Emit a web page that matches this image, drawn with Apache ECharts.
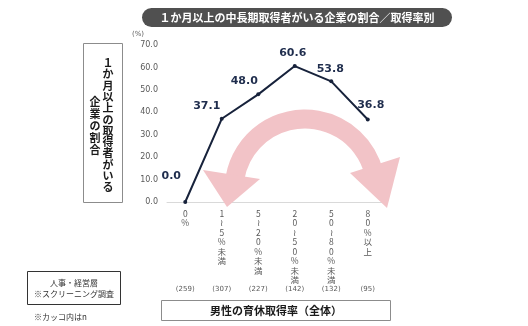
<!DOCTYPE html>
<html><head><meta charset="utf-8">
<script src="https://cdn.jsdelivr.net/npm/echarts@6/dist/echarts.min.js"></script>
<style>html,body{margin:0;padding:0;background:#fff}#c{width:528px;height:326px}</style>
</head><body><div id="c"></div>
<script>
const categories = ['0%', '1≀5%未満', '5≀20%未満', '20≀50%未満', '50≀80%未満', '80%以上'];
const values = [0.0, 37.1, 48.0, 60.6, 53.8, 36.8];
const nValues = [259, 307, 227, 142, 132, 95];
const yTicks = [0, 10, 20, 30, 40, 50, 60, 70];
const titleText = '１か月以上の中長期取得者がいる企業の割合／取得率別';
const yTitleCol1 = '１か月以上の取得者がいる';
const yTitleCol2 = '企業の割合';
const xTitle = '男性の育休取得率（全体）';
const noteBox = ['人事・経営層', '※スクリーニング調査'];
const noteN = '※カッコ内はn';

const labelOffsets = [[-14, -18], [-15, -5], [-14, -6], [-2, -5], [-1, -5], [3, -7]];
const JP = '"Noto Sans CJK JP", sans-serif';
const deg = Math.PI / 180;

const chart = echarts.init(document.getElementById('c'), null, {renderer: 'canvas'});
chart.setOption({
  animation: false,
  grid: {left: 167, right: 142, top: 45, bottom: 124},
  xAxis: [{
    type: 'category', data: categories, boundaryGap: true,
    axisLine: {lineStyle: {color: '#d9d9d9', width: 1}},
    axisTick: {show: false},
    axisLabel: {
      interval: 0, margin: 7, color: '#595959', fontFamily: JP, fontSize: 8.5,
      lineHeight: 9.5, verticalAlign: 'top',
      formatter: v => Array.from(v).join('\n')
    }
  }, {
    type: 'category', data: categories, position: 'bottom', offset: 82,
    axisLine: {show: false}, axisTick: {show: false},
    axisLabel: {interval: 0, margin: 2, color: '#595959', fontFamily: 'DejaVu Sans', fontSize: 7,
      formatter: (v, i) => '(' + nValues[i] + ')'}
  }],
  yAxis: {
    type: 'value', min: yTicks[0], max: yTicks[yTicks.length - 1], interval: 10,
    axisLine: {show: false}, axisTick: {show: false}, splitLine: {show: false},
    axisLabel: {margin: 9, color: '#595959', fontFamily: 'DejaVu Sans', fontSize: 8,
      formatter: v => v.toFixed(1)}
  },
  series: [{
    type: 'line', data: values.map((v, i) => ({
      value: v,
      label: {offset: labelOffsets[i]}
    })),
    symbol: 'circle', symbolSize: 4,
    lineStyle: {color: '#17223b', width: 2},
    itemStyle: {color: '#17223b'},
    z: 5,
    label: {show: true, position: 'top', distance: 0, color: '#1f2d4d',
      fontFamily: 'DejaVu Sans', fontWeight: 'bold', fontSize: 11,
      formatter: p => p.value.toFixed(1)}
  }],
  graphic: [
    {type: 'rect', shape: {x: 142, y: 8, width: 310, height: 19, r: 9.5},
      style: {fill: '#505050'}},
    {type: 'text', x: 297, y: 17.5, style: {text: titleText, fill: '#fff', font: 'bold 11px ' + JP,
      align: 'center', verticalAlign: 'middle'}},
    {type: 'text', x: 138, y: 34, style: {text: '(%)', fill: '#595959', font: '7px "DejaVu Sans"',
      align: 'center', verticalAlign: 'middle'}},
    {type: 'rect', shape: {x: 83.5, y: 43.5, width: 39, height: 159},
      style: {fill: 'none', stroke: '#8c8c8c', lineWidth: 1}},
    {type: 'text', x: 108, y: 125, style: {text: Array.from(yTitleCol1).join('\n'), fill: '#1a1a1a',
      font: 'bold 11px ' + JP, lineHeight: 11.3, align: 'center', verticalAlign: 'middle'}},
    {type: 'text', x: 95, y: 126, style: {text: Array.from(yTitleCol2).join('\n'), fill: '#1a1a1a',
      font: 'bold 11px ' + JP, lineHeight: 12, align: 'center', verticalAlign: 'middle'}},
    {type: 'sector', z: 1, shape: {cx: 305, cy: 190, r0: 61.5, r: 80.5,
      startAngle: 190 * deg, endAngle: 346 * deg, clockwise: true},
      style: {fill: '#f2c3c7'}},
    {type: 'polygon', z: 1, shape: {points: [[203, 170], [260, 179], [227, 207]]},
      style: {fill: '#f2c3c7'}},
    {type: 'polygon', z: 1, shape: {points: [[350, 173], [400, 157], [387, 208]]},
      style: {fill: '#f2c3c7'}},
    {type: 'rect', shape: {x: 27.5, y: 271.5, width: 93, height: 33},
      style: {fill: 'none', stroke: '#333', lineWidth: 1}},
    {type: 'text', x: 74, y: 288, style: {text: noteBox.join('\n'), fill: '#333',
      font: '8px ' + JP, lineHeight: 11, align: 'center', verticalAlign: 'middle'}},
    {type: 'text', x: 34, y: 317, style: {text: noteN, fill: '#333',
      font: '8px ' + JP, align: 'left', verticalAlign: 'middle'}},
    {type: 'rect', shape: {x: 161.5, y: 300.5, width: 229, height: 20},
      style: {fill: 'none', stroke: '#8c8c8c', lineWidth: 1}},
    {type: 'text', x: 276, y: 310.5, style: {text: xTitle, fill: '#1a1a1a',
      font: 'bold 11px ' + JP, align: 'center', verticalAlign: 'middle'}}
  ]
});
</script></body></html>
